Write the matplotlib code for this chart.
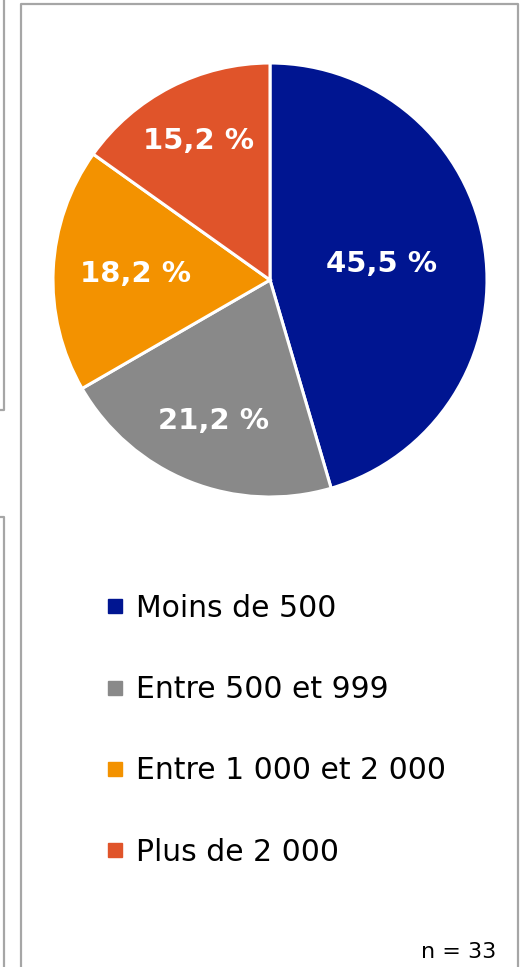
import matplotlib.pyplot as plt
from matplotlib.lines import Line2D
import numpy as np

categories = ['Moins de 500', 'Entre 500 et 999', 'Entre 1 000 et 2 000', 'Plus de 2 000']
counts = [15, 7, 6, 5]
n_total = 33
colors = ['#001591', '#898989', '#F39200', '#E0542A']
label_r = [0.52, 0.70, 0.62, 0.72]

W, H = 530, 967
fig = plt.figure(figsize=(W / 100, H / 100), dpi=100)

# bordures des cadres
def px_line(xs, ys):
    fig.add_artist(Line2D([x / W for x in xs], [1 - y / H for y in ys],
                          color='#A6A6A6', lw=1.6, transform=fig.transFigure))

px_line([0, 4, 4], [410, 410, 0])
px_line([0, 4, 4], [517, 517, 967])
px_line([21, 21, 518, 518], [967, 4, 4, 967])

# camembert
cx, cy, R = 270, 280, 217
ax = fig.add_axes([(cx - R) / W, 1 - (cy + R) / H, 2 * R / W, 2 * R / H])
wedges, _ = ax.pie(counts, colors=colors, startangle=90, counterclock=False,
                   wedgeprops=dict(edgecolor='white', linewidth=2.2))
ax.set_aspect('equal')
ax.set_xlim(-1.0, 1.0)
ax.set_ylim(-1.0, 1.0)

for w, c, r in zip(wedges, counts, label_r):
    mid = np.deg2rad((w.theta1 + w.theta2) / 2)
    pct = f'{100 * c / n_total:.1f} %'.replace('.', ',')
    ax.text(r * np.cos(mid), r * np.sin(mid), pct, color='white',
            fontsize=21, fontweight='bold', ha='center', va='center')

# légende
handles = [Line2D([], [], marker='s', linestyle='none', markersize=10,
                  markerfacecolor=col, markeredgecolor=col) for col in colors]
fig.legend(handles, categories, loc='upper left', bbox_to_anchor=(82 / W, 1 - 573 / H),
           frameon=False, fontsize=21.5, labelspacing=1.75, handlelength=0.8,
           handletextpad=0.3, borderpad=0.2)

fig.text(459 / W, 1 - 952 / H, 'n = 33', fontsize=16, ha='center', va='center')

fig.savefig('out.png', dpi=100)
